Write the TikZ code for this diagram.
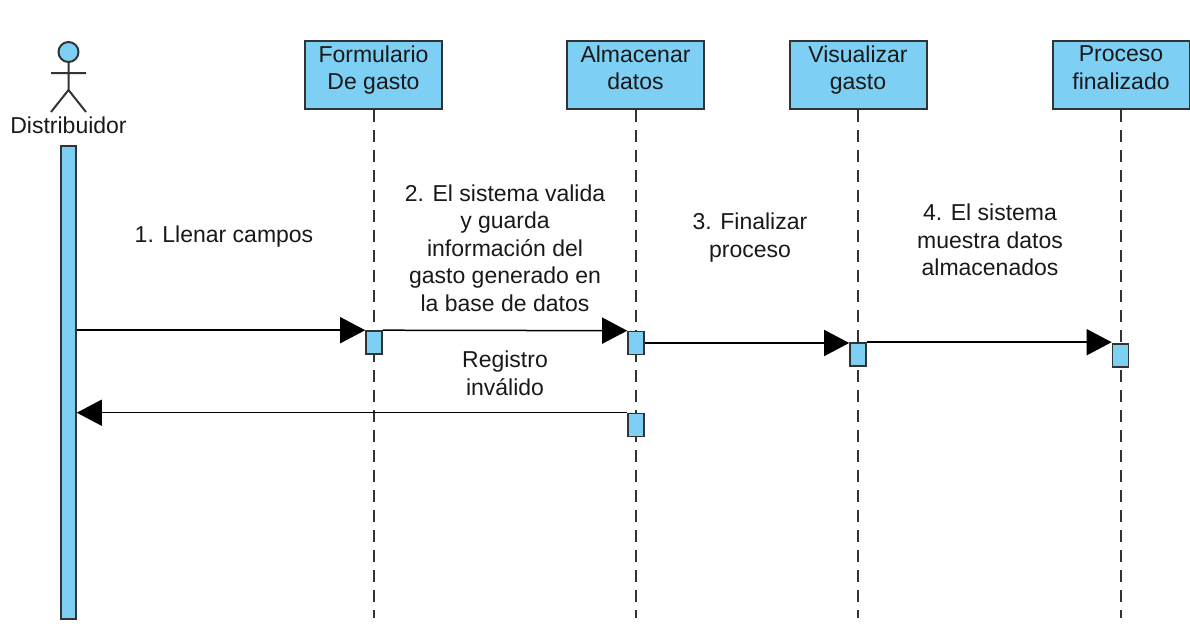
\documentclass[tikz,border=0pt]{standalone}
\usepackage{fontspec}
\setmainfont{Liberation Sans}
\usetikzlibrary{arrows.meta}
\definecolor{lblue}{RGB}{126,207,244}
\definecolor{dgray}{RGB}{51,51,51}
\begin{document}
\begin{tikzpicture}[x=1pt, y=-1pt, font=\fontsize{23}{27.6}\selectfont,
  obj/.style={draw=dgray, line width=2pt, fill=lblue, minimum width=137pt, minimum height=68pt, inner sep=0pt, align=center, text=black!90,
    execute at begin node=\strut, execute at end node={\rule[-15pt]{0pt}{1pt}}},
  act/.style={draw=dgray, line width=1.6pt, fill=lblue, minimum width=16pt, minimum height=23pt, inner sep=0pt},
  life/.style={dgray, line width=2pt, dash pattern=on 12pt off 8pt},
  msg/.style={line width=1.5pt, -{Triangle[length=25pt,width=26pt]}},
  txt/.style={align=center, text=black!90}]
\useasboundingbox (0,0) rectangle (1190,637);

% actor
\draw[dgray, line width=2pt, fill=lblue] (68.5,52) circle (10pt);
\draw[dgray, line width=2pt] (68.5,62) -- (68.5,90) (51,73) -- (86,73) (51,112) -- (68.5,90) -- (86,112);
\node[txt] (dist) at (68.5,125) {Distribuidor};
\node[act, minimum width=15pt, minimum height=473pt] (bar) at (68.5,382.5) {};

% objects
\node[obj] (form) at (373.5,75) {Formulario\\De gasto};
\node[obj] (alm) at (635.5,75) {Almacenar\\datos};
\node[obj] (vis) at (858,75) {Visualizar\\gasto};
\node[obj] (proc) at (1121,75) {Proceso\\finalizado};

\draw[life] (form.south) -- (form.south |- 0,618);
\draw[life] (alm.south) -- (alm.south |- 0,618);
\draw[life] (vis.south) -- (vis.south |- 0,618);
\draw[life] (proc.south) -- (proc.south |- 0,618);

% activations
\node[act] (a1) at (374,342.5) {};
\node[act] (a2) at (636,343) {};
\node[act] (a3) at (858,354.5) {};
\node[act] (a4) at (1120.5,355.5) {};
\node[act] (a5) at (636,425) {};

% messages
\draw[msg] (bar.east |- a1.north) -- (a1.north west);
\node[txt] (m1) at (224,237) {1. Llenar campos};
\draw[msg] (a1.north east) -- (a2.north west);
\node[txt] (m2) at (505,248) {2. El sistema valida\\y guarda\\información del\\gasto generado en\\la base de datos};
\draw[msg] (a2.east) -- (a2.east -| a3.west);
\node[txt] (m3) at (750,237.5) {3. Finalizar\\proceso};
\draw[msg] (a3.north east) -- (a3.north east -| a4.west);
\node[txt] (m4) at (990,240) {4. El sistema\\muestra datos\\almacenados};
\draw[msg] (a5.north west) -- (a5.north west -| bar.east);
\node[txt] (m5) at (505,373.5) {Registro\\inválido};
\end{tikzpicture}
\end{document}
